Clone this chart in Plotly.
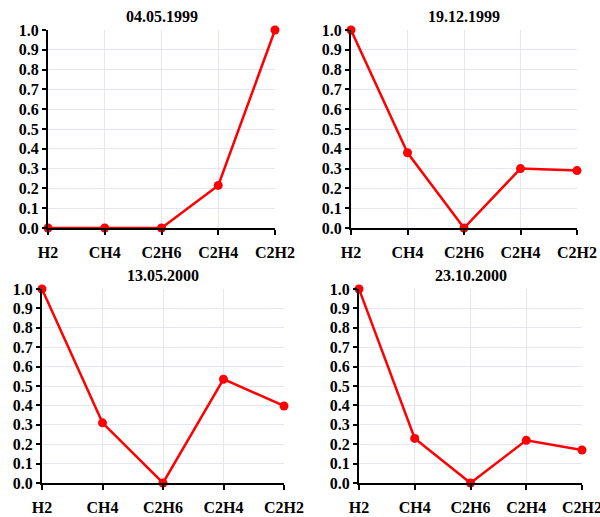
import plotly.graph_objects as go

categories = ["H2", "CH4", "C2H6", "C2H4", "C2H2"]
titles = ["04.05.1999", "19.12.1999", "13.05.2000", "23.10.2000"]
s1 = [0.0, 0.0, 0.0, 0.215, 1.0]
s2 = [1.0, 0.38, 0.0, 0.30, 0.29]
s3 = [1.0, 0.31, 0.0, 0.535, 0.397]
s4 = [1.0, 0.23, 0.0, 0.22, 0.17]
series = [s1, s2, s3, s4]
yticks = [0.0, 0.1, 0.2, 0.3, 0.4, 0.5, 0.6, 0.7, 0.8, 0.9, 1.0]

W, H = 600, 517
# pixel boxes: (x0, x1, ytop, ybottom)
boxes = [(48, 275, 30, 228), (351, 577, 30, 228), (42, 284, 289, 483), (359, 582, 289, 483)]
FONT = "Liberation Serif, Times New Roman, serif"
FS = 16

fig = go.Figure()
layout = dict(template="none", width=W, height=H, margin=dict(l=0, r=0, t=0, b=0),
              paper_bgcolor="white", plot_bgcolor="white", showlegend=False,
              font=dict(family=FONT, size=FS, color="black"))
annotations = []
for i, (vals, title, box) in enumerate(zip(series, titles, boxes)):
    n = "" if i == 0 else str(i + 1)
    x0, x1, yt, yb = box
    fig.add_trace(go.Scatter(x=categories, y=vals, mode="lines+markers",
                             line=dict(color="#ff0000", width=2.5),
                             marker=dict(color="#ff0000", size=9),
                             xaxis="x" + n, yaxis="y" + n, cliponaxis=False))
    layout["xaxis" + n] = dict(domain=[x0 / W, x1 / W], anchor="y" + n, type="category",
                               range=[0, 4], automargin=False,
                               showgrid=True, gridcolor="#e4e4fb", gridwidth=1,
                               showline=True, linecolor="black", linewidth=2,
                               ticks="outside", ticklen=5, tickwidth=2, tickcolor="black",
                               ticklabelstandoff=4,
                               tickfont=dict(family=FONT, size=FS, color="black", weight="bold"),
                               zeroline=False, fixedrange=True)
    layout["yaxis" + n] = dict(domain=[(H - yb) / H, (H - yt) / H], anchor="x" + n,
                               range=[0, 1], tickvals=yticks, automargin=False,
                               ticktext=[f"{v:.1f}" for v in yticks],
                               showgrid=True, gridcolor="#e4e4fb", gridwidth=1,
                               showline=True, linecolor="black", linewidth=2,
                               ticks="outside", ticklen=4, tickwidth=2, tickcolor="black",
                               tickfont=dict(family=FONT, size=FS, color="black", weight="bold"),
                               zeroline=False, fixedrange=True)
    annotations.append(dict(text="<b>" + title + "</b>", x=(x0 + x1) / 2 / W, y=(H - yt + 14) / H,
                            xref="paper", yref="paper", xanchor="center", yanchor="middle",
                            showarrow=False, font=dict(family=FONT, size=FS, color="black")))
layout["annotations"] = annotations
fig.update_layout(**layout)
fig.write_html("out.html")
